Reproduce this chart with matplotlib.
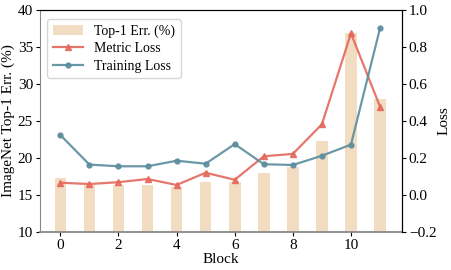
import numpy as np
import matplotlib.pyplot as plt

plt.rcParams['font.family'] = ['Liberation Serif', 'DejaVu Serif']
plt.rcParams['mathtext.fontset'] = 'stix'

blocks = np.arange(12)
top1_err = [17.3, 16.4, 16.3, 16.4, 16.1, 16.7, 16.8, 17.9, 18.8, 22.3, 36.9, 28.0]
metric_loss = [0.066, 0.059, 0.069, 0.086, 0.054, 0.120, 0.082, 0.209, 0.222, 0.382, 0.874, 0.477]
training_loss = [0.324, 0.164, 0.155, 0.155, 0.185, 0.169, 0.275, 0.166, 0.162, 0.212, 0.272, 0.901]

fig = plt.figure(figsize=(4.52, 2.70), dpi=100)
ax = fig.add_axes([0.0885, 0.141, 0.8005, 0.822])
ax2 = ax.twinx()

b = ax.bar(blocks, top1_err, width=0.4, color='#f2dcc2', label='Top-1 Err. (%)', zorder=1)
ax.set_ylim(10, 40)
ax.set_xlim(-0.7, 11.75)
ax.set_xticks([0, 2, 4, 6, 8, 10])
ax.set_yticks([10, 15, 20, 25, 30, 35, 40])
ax.set_xlabel('Block', fontsize=11, labelpad=1)
ax.set_ylabel('ImageNet Top-1 Err. (%)', fontsize=11, labelpad=2)
ax.tick_params(labelsize=11, length=3, pad=2)
ax.spines['bottom'].set_color('#888888')
ax.spines['bottom'].set_linewidth(1.3)
ax.spines['left'].set_color('#888888')

l1, = ax2.plot(blocks, metric_loss, color='#e4685c', marker='^', markersize=5,
               linewidth=1.6, alpha=0.9, label='Metric Loss')
l2, = ax2.plot(blocks, training_loss, color='#5b8d9d', marker='o', markersize=3.5,
               linewidth=1.6, alpha=0.9, label='Training Loss')
ax2.set_ylim(-0.2, 1.0)
ax2.set_yticks([-0.2, 0.0, 0.2, 0.4, 0.6, 0.8, 1.0])
ax2.set_yticklabels(['\u22120.2', '0.0', '0.2', '0.4', '0.6', '0.8', '1.0'])
ax2.set_ylabel('Loss', fontsize=11, labelpad=1)
ax2.tick_params(labelsize=11, length=3, pad=2)
ax2.spines['bottom'].set_visible(False)
ax2.spines['left'].set_visible(False)

ax2.legend([b, l1, l2], ['Top-1 Err. (%)', 'Metric Loss', 'Training Loss'],
           loc='upper left', fontsize=10, frameon=True, borderpad=0.4,
           handlelength=2.2, labelspacing=0.3, bbox_to_anchor=(0.0, 0.99))

fig.savefig('out.png', dpi=100)
